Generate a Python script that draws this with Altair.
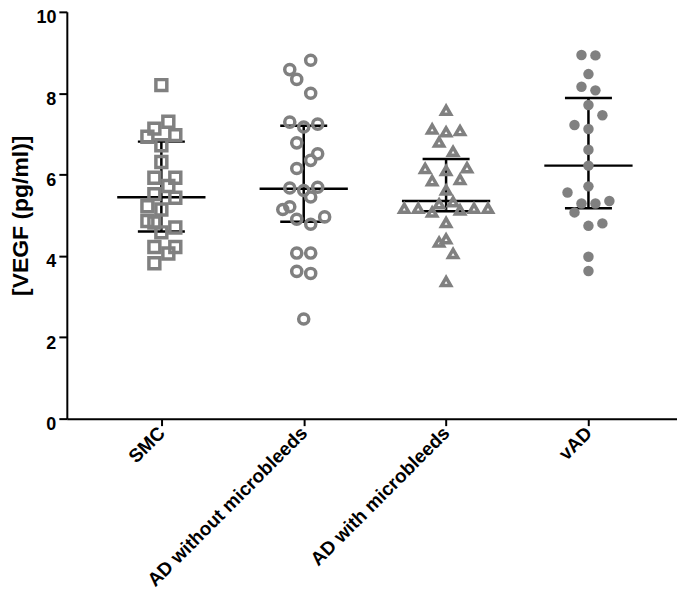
import altair as alt
import pandas as pd

groups = ["SMC", "AD without microbleeds", "AD with microbleeds", "vAD"]

smc_vals = [8.2, 7.3, 7.13, 6.97, 6.93, 6.72, 6.31, 5.92, 5.92, 5.72, 5.52, 5.43,
            5.22, 5.14, 4.86, 4.82, 4.58, 4.70, 4.22, 4.22, 4.06, 3.82]
smc_cols = [0, 1, -1, 2, -2, 0, 0, -1, 2, 1, -1, 2, -2, 0, -2, -1, 0, 2, -1, 2, 1, -1]

adwo_vals = [8.81, 8.58, 8.34, 8.00, 7.29, 7.24, 7.17, 6.78, 6.51, 6.35, 6.15, 5.67,
             5.61, 5.69, 5.45, 5.21, 5.14, 4.96, 4.90, 4.78, 4.07, 4.07, 3.62, 3.57, 2.45]
adwo_cols = [1, -2, -1, 1, -2, 2, 0, -1, 2, 1, -1, -2, 0, 2, 1, -2, -3, 3, -1, 1, -1, 1, -1, 1, 0]

adw_vals = [7.58, 7.12, 7.05, 7.08, 6.80, 6.57, 6.15, 6.10, 6.17, 5.85, 5.88, 5.62,
            5.28, 5.33, 5.17, 5.17, 5.08, 5.13, 5.17, 5.17, 4.82, 4.42, 4.34, 4.06, 3.37]
adw_cols = [0, -2, 0, 2, -1, 1, -3, 0, 3, -2, 2, 0, -1, 1, -6, -4, -2, 2, 4, 6, 0, 0, -1, 1, 0]

vad_vals = [8.94, 8.93, 8.47, 8.16, 8.07, 7.71, 7.46, 7.22, 7.12, 6.61, 6.22, 5.71,
            5.56, 5.29, 5.29, 5.35, 5.07, 4.74, 4.80, 3.98, 3.63]
vad_cols = [-1, 1, 0, -1, 1, 0, 2, -2, 0, 0, 0, 0, -3, -1, 1, 3, -2, 0, 2, 0, 0]

medians = [5.44, 5.65, 5.35, 6.22]
q1 = [4.60, 4.84, 5.10, 5.17]
q3 = [6.81, 7.20, 6.38, 7.88]

SLOT = 0.049
MED_HALF = 0.31
CAP_HALF = 0.165
GRAY = "#808080"
FONT = "Liberation Sans"

rows = []
for gi, (vals, cols) in enumerate([(smc_vals, smc_cols), (adwo_vals, adwo_cols),
                                    (adw_vals, adw_cols), (vad_vals, vad_cols)]):
    for v, c in zip(vals, cols):
        rows.append({"group": groups[gi], "gi": gi, "value": v, "xp": gi + c * SLOT})
pts = pd.DataFrame(rows)

summ = pd.DataFrame({"group": groups, "gi": list(range(4)),
                     "median": medians, "q1": q1, "q3": q3})

xdom = [-0.664, 3.622]
label_expr = "[" + ",".join("'" + g + "'" for g in groups) + "][datum.value]"

xaxis = alt.Axis(values=[0, 1, 2, 3], labelExpr=label_expr, labelAngle=-45,
                 labelAlign="right", labelBaseline="middle", title=None, grid=False,
                 labelFont=FONT, labelFontSize=19, labelFontWeight="bold",
                 labelColor="black", tickColor="black", tickWidth=2, tickSize=7,
                 domainColor="black", domainWidth=2, labelPadding=4,
                 labelLimit=400, labelOverlap=False)
yaxis = alt.Axis(values=[0, 2, 4, 6, 8, 10], title="[VEGF (pg/ml)]", grid=False,
                 labelFont=FONT, labelFontSize=18, labelFontWeight="bold",
                 labelColor="black", tickColor="black", tickWidth=2, tickSize=8,
                 domainColor="black", domainWidth=2, labelPadding=3,
                 labelBaseline="top", labelOffset=-3, labelOverlap=False,
                 titleFont=FONT, titleFontSize=23, titleFontWeight="bold",
                 titleColor="black", titlePadding=3)

xs = alt.Scale(domain=xdom, nice=False, zero=False)
ys = alt.Scale(domain=[0, 10], nice=False)

base_s = alt.Chart(summ)

med = base_s.transform_calculate(
    x1=f"datum.gi - {MED_HALF}", x2=f"datum.gi + {MED_HALF}"
).mark_rule(color="black", strokeWidth=2.5).encode(
    x=alt.X("x1:Q", scale=xs, axis=xaxis), x2="x2:Q",
    y=alt.Y("median:Q", scale=ys, axis=yaxis))

cap_lo = base_s.transform_calculate(
    x1=f"datum.gi - {CAP_HALF}", x2=f"datum.gi + {CAP_HALF}"
).mark_rule(color="black", strokeWidth=2.5).encode(
    x=alt.X("x1:Q", scale=xs), x2="x2:Q", y=alt.Y("q1:Q", scale=ys))

cap_hi = base_s.transform_calculate(
    x1=f"datum.gi - {CAP_HALF}", x2=f"datum.gi + {CAP_HALF}"
).mark_rule(color="black", strokeWidth=2.5).encode(
    x=alt.X("x1:Q", scale=xs), x2="x2:Q", y=alt.Y("q3:Q", scale=ys))

vert = base_s.mark_rule(color="black", strokeWidth=2.5).encode(
    x=alt.X("gi:Q", scale=xs), y=alt.Y("q1:Q", scale=ys), y2="q3:Q")

hollow = alt.Chart(pts).transform_filter("datum.gi < 3").mark_point(
    filled=False, color=GRAY, opacity=1, strokeWidth=3.5
).encode(
    x=alt.X("xp:Q", scale=xs),
    y=alt.Y("value:Q", scale=ys),
    shape=alt.Shape("group:N", scale=alt.Scale(domain=groups[:3],
                    range=["square", "circle", "triangle-up"]), legend=None),
    size=alt.Size("group:N", scale=alt.Scale(domain=groups[:3],
                  range=[120, 85, 110]), legend=None),
)

filled = alt.Chart(pts).transform_filter("datum.gi == 3").mark_point(
    filled=True, color=GRAY, opacity=1, shape="circle", size=110
).encode(
    x=alt.X("xp:Q", scale=xs),
    y=alt.Y("value:Q", scale=ys),
)

chart = alt.layer(med, cap_lo, cap_hi, vert, hollow, filled).properties(
    width=612, height=408,
    padding={"left": 1, "top": 0, "right": 0, "bottom": 0}
).configure_view(stroke=None)

chart.save("out.html", embed_options={"renderer": "svg", "actions": False})
